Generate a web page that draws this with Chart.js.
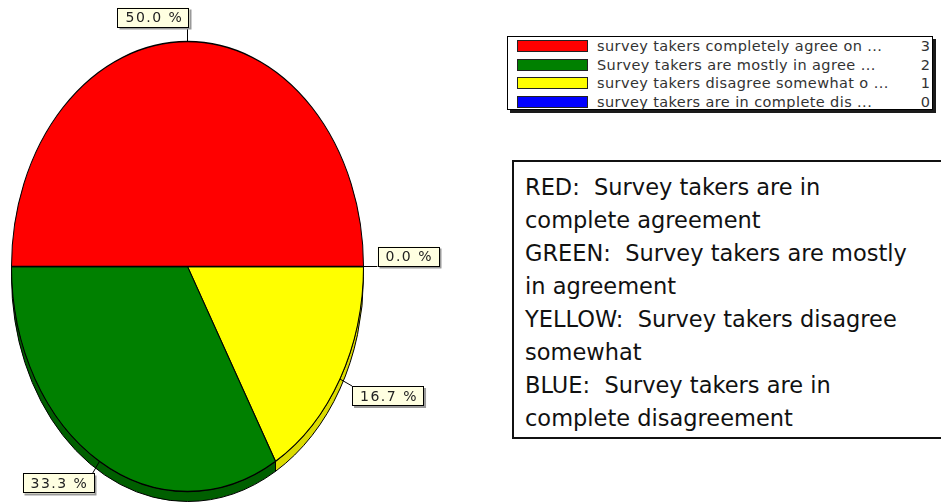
<!DOCTYPE html>
<html>
<head>
<meta charset="utf-8">
<script src="https://cdn.jsdelivr.net/npm/chart.js@4/dist/chart.umd.min.js"></script>
<style>
  body { margin: 0; background: #fff; width: 941px; height: 502px; overflow: hidden; position: relative; font-family: "DejaVu Sans", sans-serif; }
  #pie { position: absolute; left: 0; top: 0; }
  #legend { position: absolute; left: 507px; top: 36px; width: 424px; height: 72px; border: 1px solid #000; background: #fff; box-shadow: 3px 3px 0 #1a1a1a; }
  .row { position: absolute; left: 0; width: 100%; height: 18px; }
  .swatch { position: absolute; left: 9px; top: 3px; width: 69px; height: 10px; border: 1px solid #222; }
  .name { position: absolute; left: 89px; top: 0; font-size: 14.5px; line-height: 18px; color: #333; letter-spacing: 0.4px; white-space: pre; }
  .val { position: absolute; right: 2px; top: 0; font-size: 14.5px; line-height: 18px; color: #333; }
  #notes { position: absolute; left: 512px; top: 160px; width: 440px; height: 275px; border: 2px solid #111; border-right: none; }
  #notes pre { margin: 0; padding: 9px 0 0 11px; font-family: "DejaVu Sans", sans-serif; font-size: 22.5px; line-height: 33px; color: #111; }
</style>
</head>
<body>
<canvas id="pie" width="470" height="502"></canvas>
<div id="legend"></div>
<div id="notes"><pre id="notes-text"></pre></div>
<script>
// survey answers, in legend order
const categories = ["survey takers completely agree on ...", "Survey takers are mostly in agree ...", "survey takers disagree somewhat o ...", "survey takers are in complete dis ..."];
const counts = [3, 2, 1, 0];
const sliceColors = ["#ff0000", "#008000", "#ffff00", "#0000ff"];
const wallColors = ["#b00000", "#005f00", "#dcdc00", "#0000a0"];
const noteLines = [
  "RED:  Survey takers are in",
  "complete agreement",
  "GREEN:  Survey takers are mostly",
  "in agreement",
  "YELLOW:  Survey takers disagree",
  "somewhat",
  "BLUE:  Survey takers are in",
  "complete disagreement"
];

const SQUASH = 225 / 176; // vertical stretch of the pie
const DEPTH = 10;         // height of the side wall in px

// pie goes counter-clockwise from 3 o'clock, so feed it reversed
const order = counts.map((_, i) => i).reverse();
const total = counts.reduce((a, b) => a + b, 0);

// legend box
const legendEl = document.getElementById("legend");
categories.forEach((name, i) => {
  const row = document.createElement("div");
  row.className = "row";
  row.style.top = (i * 18.5) + "px";
  const sw = document.createElement("div");
  sw.className = "swatch";
  sw.style.background = sliceColors[i];
  const nm = document.createElement("div");
  nm.className = "name";
  nm.textContent = name;
  const v = document.createElement("div");
  v.className = "val";
  v.textContent = counts[i];
  row.appendChild(sw);
  row.appendChild(nm);
  row.appendChild(v);
  legendEl.appendChild(row);
});

document.getElementById("notes-text").textContent = noteLines.join("\n");

function normAngles(arc) {
  const TAU = Math.PI * 2;
  let s = arc.startAngle % TAU;
  if (s < 0) s += TAU;
  return [s, s + (arc.endAngle - arc.startAngle)];
}

// outline of a slice's side wall, built in squashed space
function wallPath(ctx, x, y, r, a0, a1) {
  ctx.save();
  ctx.translate(x, y);
  ctx.scale(1, SQUASH);
  ctx.beginPath();
  ctx.arc(0, 0, r, a0, a1);
  ctx.arc(0, DEPTH / SQUASH, r, a1, a0, true);
  ctx.closePath();
  ctx.restore();
}

function drawTag(ctx, text, ex, ey, dx, dy) {
  ctx.font = "14px 'DejaVu Sans'";
  ctx.letterSpacing = "1.5px";
  const w = Math.round(ctx.measureText(text).width) + 14;
  const h = 20;
  let bx, by;
  if (Math.abs(dx) < 0.05) bx = ex + 2 - w;
  else bx = dx > 0 ? ex : ex + 2 - w;
  by = dy > 0.05 ? ey : ey - h;
  ctx.fillStyle = "#9a9a9a";
  ctx.fillRect(bx + 2, by + 2, w, h);
  ctx.fillStyle = "#ffffe1";
  ctx.fillRect(bx, by, w, h);
  ctx.strokeStyle = "#000";
  ctx.lineWidth = 1;
  ctx.strokeRect(Math.round(bx) + 0.5, Math.round(by) + 0.5, w - 1, h - 1);
  ctx.fillStyle = "#222";
  ctx.textBaseline = "middle";
  ctx.textAlign = "left";
  ctx.fillText(text, bx + 8, by + h / 2 + 1);
  ctx.letterSpacing = "0px";
}

const tiltPlugin = {
  id: "tilt",
  beforeDatasetsDraw(chart) {
    const ctx = chart.ctx;
    const arcs = chart.getDatasetMeta(0).data;
    const cx = arcs[0].x, cy = arcs[0].y, r = arcs[0].outerRadius;
    // side walls, front half only
    arcs.forEach((arc, j) => {
      const [s, e] = normAngles(arc);
      const a0 = Math.max(s, 0), a1 = Math.min(e, Math.PI);
      if (a1 - a0 <= 0.0001) return;
      const i = order[j];
      wallPath(ctx, cx, cy, r, a0, a1);
      ctx.fillStyle = wallColors[i];
      ctx.fill();
      ctx.strokeStyle = "#000";
      ctx.lineWidth = 1;
      ctx.stroke();
    });
    ctx.save();
    ctx.translate(cx, cy);
    ctx.scale(1, SQUASH);
    ctx.translate(-cx, -cy);
  },
  afterDatasetsDraw(chart) {
    const ctx = chart.ctx;
    ctx.restore();
    const arcs = chart.getDatasetMeta(0).data;
    arcs.forEach((arc, j) => {
      const i = order[j];
      const mid = (arc.startAngle + arc.endAngle) / 2;
      const dx = Math.cos(mid), dy = Math.sin(mid);
      const ax = arc.x + arc.outerRadius * dx;
      const ay = arc.y + arc.outerRadius * dy * SQUASH;
      const ex = ax + 14 * dx, ey = ay + 14 * dy;
      ctx.strokeStyle = "#000";
      ctx.lineWidth = 1;
      ctx.beginPath();
      ctx.moveTo(ax, ay);
      ctx.lineTo(ex, ey);
      ctx.stroke();
      const pct = (counts[i] / total * 100).toFixed(1) + " %";
      drawTag(ctx, pct, ex, ey, dx, dy);
    });
  }
};

new Chart(document.getElementById("pie"), {
  type: "pie",
  data: {
    labels: order.map(i => categories[i]),
    datasets: [{
      data: order.map(i => counts[i]),
      backgroundColor: order.map(i => sliceColors[i]),
      borderColor: "#000",
      borderWidth: 1,
      hoverBorderWidth: 1,
      clip: false
    }]
  },
  options: {
    responsive: false,
    animation: false,
    events: [],
    rotation: 90,
    layout: { padding: { left: 11, right: 106, top: 90, bottom: 59 } },
    plugins: { legend: { display: false }, tooltip: { enabled: false } }
  },
  plugins: [tiltPlugin]
});
</script>
</body>
</html>
